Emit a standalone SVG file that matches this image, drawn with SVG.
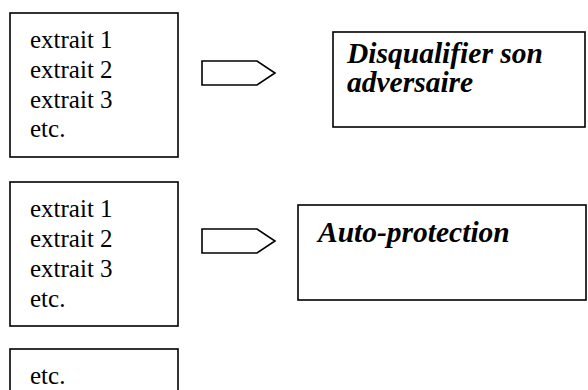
<svg xmlns="http://www.w3.org/2000/svg" width="588" height="390" viewBox="0 0 588 390">
<style>
.box{fill:#fff;stroke:#000;stroke-width:1.6}
.arrow{fill:#fff;stroke:#000;stroke-width:1.6;stroke-linejoin:miter}
.t{font-family:"Liberation Serif","Times New Roman",serif;font-size:25px;fill:#000}
.b{font-family:"Liberation Serif","Times New Roman",serif;font-size:29.5px;font-weight:bold;font-style:italic;fill:#000}
</style>
<rect width="588" height="390" fill="#fff"/>
<g id="src1">
<rect class="box" x="10" y="13" width="168" height="144"/>
<text class="t" x="30" y="48">extrait 1</text>
<text class="t" x="30" y="78">extrait 2</text>
<text class="t" x="30" y="107.5">extrait 3</text>
<text class="t" x="30" y="137">etc.</text>
</g>
<g id="tgt1">
<rect class="box" x="333" y="32" width="252" height="95"/>
<text class="b" x="347" y="63">Disqualifier son</text>
<text class="b" x="347" y="92">adversaire</text>
</g>
<g id="src2">
<rect class="box" x="10" y="182" width="168" height="144"/>
<text class="t" x="30" y="217">extrait 1</text>
<text class="t" x="30" y="247">extrait 2</text>
<text class="t" x="30" y="277">extrait 3</text>
<text class="t" x="30" y="307">etc.</text>
</g>
<g id="tgt2">
<rect class="box" x="298" y="205" width="288" height="95"/>
<text class="b" x="318" y="242">Auto-protection</text>
</g>
<g id="src3">
<rect class="box" x="10" y="349" width="168" height="144"/>
<text class="t" x="30" y="384">etc.</text>
</g>
<g id="connectors">
<polygon class="arrow" points="202,61 257,61 275,73 257,85 202,85"/>
<polygon class="arrow" points="202,229 257,229 275,241 257,253 202,253"/>
</g>
</svg>
